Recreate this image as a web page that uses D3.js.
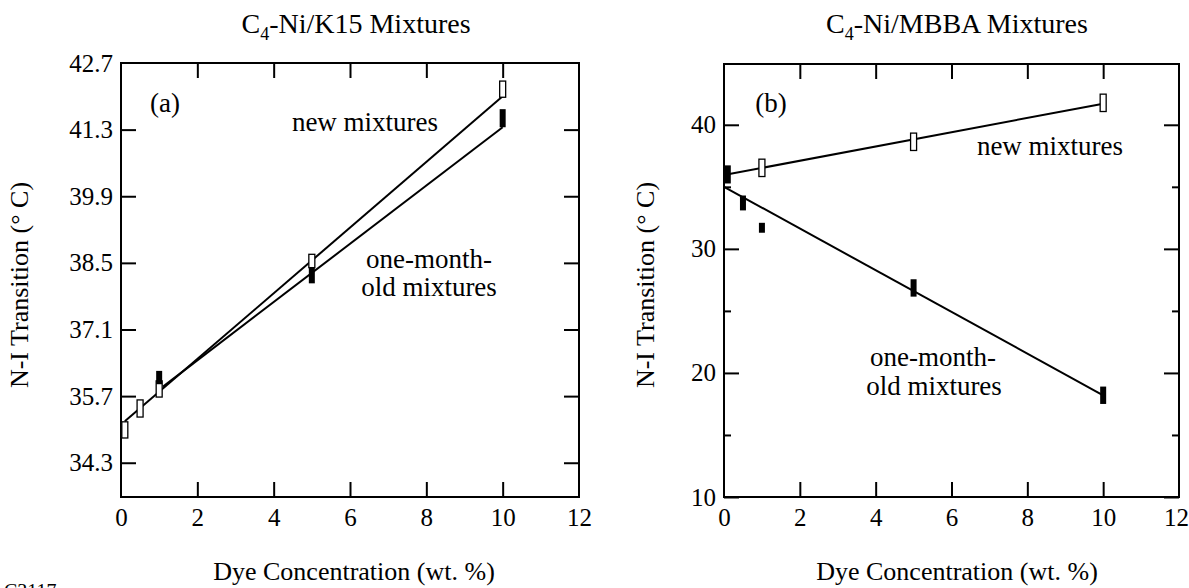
<!DOCTYPE html>
<html>
<head>
<meta charset="utf-8">
<script src="https://cdn.jsdelivr.net/npm/d3@7"></script>
<style>
  body { margin: 0; background: #ffffff; }
  text { font-family: "Liberation Serif", "DejaVu Serif", serif; fill: #000; }
</style>
</head>
<body>
<script>
// ---- data ----
// (a) C4-Ni/K15
var k15NewX = [0.1, 0.5, 1, 5, 10];
var k15NewY = [34.99, 35.44, 35.85, 38.54, 42.15];
var k15NewErr = [0.17, 0.18, 0.17, 0.14, 0.17];
var k15OldX = [1, 5, 10];
var k15OldY = [36.09, 38.24, 41.54];
var k15OldErr = [0.14, 0.17, 0.19];
var k15NewFitX = [0.1, 10];
var k15NewFitY = [35.17, 42.0];
var k15OldFitX = [1.1, 10];
var k15OldFitY = [35.9, 41.35];
var k15YTicks = [42.7, 41.3, 39.9, 38.5, 37.1, 35.7, 34.3];

// (b) C4-Ni/MBBA
var mbbaNewX = [1, 5, 10];
var mbbaNewY = [36.53, 38.63, 41.77];
var mbbaNewErr = [0.7, 0.7, 0.7];
var mbbaOldX = [0.1, 0.5, 1, 5, 10];
var mbbaOldY = [36.0, 33.7, 31.7, 26.85, 18.2];
var mbbaOldErr = [0.73, 0.6, 0.4, 0.7, 0.7];
var mbbaNewFitX = [0, 10];
var mbbaNewFitY = [35.95, 41.7];
var mbbaOldFitX = [0, 10];
var mbbaOldFitY = [35.0, 18.2];
var mbbaYTicks = [10, 20, 30, 40];
var mbbaYMinor = [15, 25, 35];

var xTickLabels = [0, 2, 4, 6, 8, 10, 12];
var xInnerTicks = [2, 4, 6, 8, 10];

var width = 1189; // page width
var height = 588; // page height

var svg = d3.select("body").append("svg")
    .attr("width", width)
    .attr("height", height);

// one panel of the figure
function drawPanel(p) {
    var x = d3.scaleLinear().domain([0, 12]).range([p.left, p.right]);
    var y = d3.scaleLinear().domain(p.yDomain).range([p.bottom, p.top]);
    var g = svg.append("g");

    // ticks, all pointing inward
    var bottomAxis = g.append("g")
        .attr("transform", "translate(0," + p.bottom + ")")
        .call(d3.axisBottom(x).tickValues(xTickLabels).tickSize(-15).tickPadding(11));
    var topAxis = g.append("g")
        .attr("transform", "translate(0," + p.top + ")")
        .call(d3.axisTop(x).tickValues(xInnerTicks).tickSize(-15).tickFormat(""));
    var leftAxis = g.append("g")
        .attr("transform", "translate(" + p.left + ",0)")
        .call(d3.axisLeft(y).tickValues(p.yTicks).tickSize(-15).tickPadding(8).tickFormat(p.fmt));
    var rightAxis = g.append("g")
        .attr("transform", "translate(" + p.right + ",0)")
        .call(d3.axisRight(y).tickValues(p.yTicks).tickSize(-15).tickFormat(""));
    if (p.yMinor) {
        g.append("g")
            .attr("transform", "translate(" + p.left + ",0)")
            .call(d3.axisLeft(y).tickValues(p.yMinor).tickSize(-7).tickFormat(""));
        g.append("g")
            .attr("transform", "translate(" + p.right + ",0)")
            .call(d3.axisRight(y).tickValues(p.yMinor).tickSize(-7).tickFormat(""));
    }
    g.selectAll(".domain").remove();
    g.selectAll(".tick line").attr("stroke", "#000").attr("stroke-width", 2);
    g.selectAll(".tick text")
        .style("font-family", "Liberation Serif, DejaVu Serif, serif")
        .style("font-size", "25px")
        .attr("fill", "#000");
    // keep the last x label inside the page
    bottomAxis.selectAll(".tick text").filter(function (d) { return d == 12; }).attr("dx", p.lastDx);
    // drop the tick marks sitting on the frame corners
    bottomAxis.selectAll(".tick line").filter(function (d) { return d == 0 || d == 12; }).remove();
    leftAxis.selectAll(".tick line").filter(function (d) { return d == p.yDomain[1]; }).remove();
    rightAxis.selectAll(".tick line").filter(function (d) { return d == p.yDomain[1]; }).remove();

    // frame
    g.append("rect")
        .attr("x", p.left)
        .attr("y", p.top)
        .attr("width", p.right - p.left)
        .attr("height", p.bottom - p.top)
        .attr("fill", "none")
        .attr("stroke", "#000")
        .attr("stroke-width", 2);

    // fit lines
    var line = d3.line().x(function (d) { return x(d[0]); }).y(function (d) { return y(d[1]); });
    [d3.zip(p.newFitX, p.newFitY), d3.zip(p.oldFitX, p.oldFitY)].forEach(function (pts) {
        g.append("path")
            .attr("d", line(pts))
            .attr("fill", "none")
            .attr("stroke", "#000")
            .attr("stroke-width", 2);
    });

    // error boxes: open = new mixtures, filled = one-month-old
    g.selectAll(null)
        .data(d3.zip(p.newX, p.newY, p.newErr))
        .enter()
        .append("rect")
        .attr("x", function (d) { return x(d[0]) - 3; })
        .attr("y", function (d) { return y(d[1] + d[2]); })
        .attr("width", 6)
        .attr("height", function (d) { return y(d[1] - d[2]) - y(d[1] + d[2]); })
        .attr("fill", "#fff")
        .attr("stroke", "#000")
        .attr("stroke-width", 1.3);
    g.selectAll(null)
        .data(d3.zip(p.oldX, p.oldY, p.oldErr))
        .enter()
        .append("rect")
        .attr("x", function (d) { return x(d[0]) - 3; })
        .attr("y", function (d) { return y(d[1] + d[2]); })
        .attr("width", 6)
        .attr("height", function (d) { return y(d[1] - d[2]) - y(d[1] + d[2]); })
        .attr("fill", "#000");

    // title with subscript
    var title = g.append("text")
        .attr("x", p.titleX)
        .attr("y", 33)
        .attr("text-anchor", "middle")
        .style("font-size", "28px");
    title.append("tspan").text("C");
    title.append("tspan").attr("dy", 7).style("font-size", "18px").text("4");
    title.append("tspan").attr("dy", -7).text(p.title);

    // axis titles
    g.append("text")
        .attr("transform", "translate(" + p.yTitleX + ",285) rotate(-90)")
        .attr("text-anchor", "middle")
        .style("font-size", "26px")
        .text("N-I Transition (\u00b0 C)");
    g.append("text")
        .attr("x", p.xTitleX)
        .attr("y", 580)
        .attr("text-anchor", "middle")
        .style("font-size", "26px")
        .text("Dye Concentration (wt. %)");

    // in-plot labels
    p.labels.forEach(function (l) {
        g.append("text")
            .attr("x", l[1])
            .attr("y", l[2])
            .attr("text-anchor", "middle")
            .style("font-size", "27px")
            .text(l[0]);
    });
}

drawPanel({
    left: 121, right: 579, top: 63, bottom: 497,
    yDomain: [33.58, 42.7], yTicks: k15YTicks, fmt: d3.format(".1f"), lastDx: 0,
    newX: k15NewX, newY: k15NewY, newErr: k15NewErr,
    oldX: k15OldX, oldY: k15OldY, oldErr: k15OldErr,
    newFitX: k15NewFitX, newFitY: k15NewFitY, oldFitX: k15OldFitX, oldFitY: k15OldFitY,
    title: "-Ni/K15 Mixtures", titleX: 356, yTitleX: 28, xTitleX: 354,
    labels: [["(a)", 165, 112], ["new mixtures", 365, 131], ["one-month-", 429, 268], ["old mixtures", 429, 296]]
});

drawPanel({
    left: 724, right: 1179, top: 64, bottom: 497,
    yDomain: [10, 44.9], yTicks: mbbaYTicks, yMinor: mbbaYMinor, fmt: d3.format("d"), lastDx: -3,
    newX: mbbaNewX, newY: mbbaNewY, newErr: mbbaNewErr,
    oldX: mbbaOldX, oldY: mbbaOldY, oldErr: mbbaOldErr,
    newFitX: mbbaNewFitX, newFitY: mbbaNewFitY, oldFitX: mbbaOldFitX, oldFitY: mbbaOldFitY,
    title: "-Ni/MBBA Mixtures", titleX: 957, yTitleX: 654, xTitleX: 957,
    labels: [["(b)", 771, 112], ["new mixtures", 1050, 155], ["one-month-", 933, 366], ["old mixtures", 934, 395]]
});

// figure id, cut off at the bottom edge of the scan
svg.append("text")
    .attr("x", 4)
    .attr("y", 598)
    .style("font-size", "20px")
    .text("C3117");
</script>
</body>
</html>
